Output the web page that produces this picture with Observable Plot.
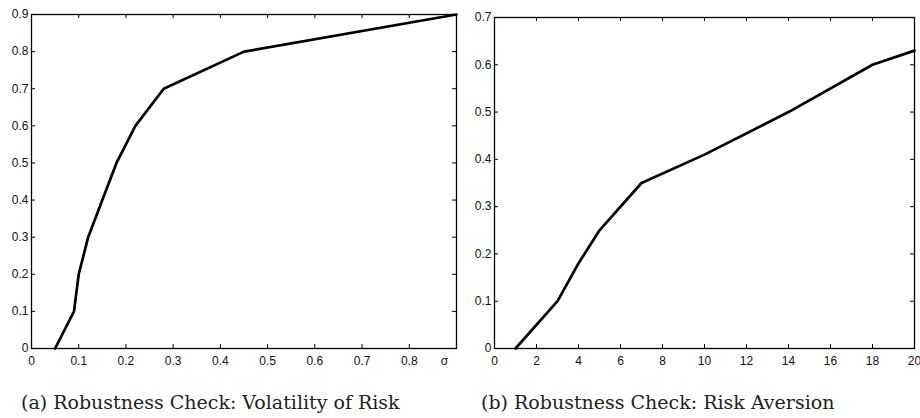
<!DOCTYPE html>
<html>
<head>
<meta charset="utf-8">
<script src="https://cdn.jsdelivr.net/npm/d3@7"></script>
<script src="https://cdn.jsdelivr.net/npm/@observablehq/plot@0.6"></script>
<style>
  html, body { margin: 0; padding: 0; background: #fff; width: 920px; height: 418px; overflow: hidden; }
  .panel { position: absolute; top: 0; }
  .panel svg { overflow: visible; }
  .cap { position: absolute; top: 391px; font-family: "DejaVu Serif", serif; font-size: 19px; color: #222; white-space: nowrap; }
</style>
</head>
<body>
<div id="a" class="panel" style="left:0px"></div>
<div id="b" class="panel" style="left:460px"></div>
<div class="cap" style="left:21px">(a) Robustness Check: Volatility of Risk</div>
<div class="cap" style="left:481px">(b) Robustness Check: Risk Aversion</div>
<script>
// Panel (a): volatility of risk
const sigmaX = [0.05, 0.09, 0.10, 0.12, 0.15, 0.18, 0.22, 0.28, 0.45, 0.90];
const sigmaY = [0.00, 0.10, 0.20, 0.30, 0.40, 0.50, 0.60, 0.70, 0.80, 0.90];
const aXTicks = [0, 0.1, 0.2, 0.3, 0.4, 0.5, 0.6, 0.7, 0.8, 0.9];
const aXLabels = ["0", "0.1", "0.2", "0.3", "0.4", "0.5", "0.6", "0.7", "0.8", "σ"];
const aYTicks = [0, 0.1, 0.2, 0.3, 0.4, 0.5, 0.6, 0.7, 0.8, 0.9];
const aYLabels = ["0", "0.1", "0.2", "0.3", "0.4", "0.5", "0.6", "0.7", "0.8", "0.9"];

// Panel (b): risk aversion
const gammaX = [1, 3, 4, 5, 7, 10, 14, 18, 20];
const gammaY = [0.00, 0.10, 0.18, 0.25, 0.35, 0.41, 0.50, 0.60, 0.63];
const bXTicks = [0, 2, 4, 6, 8, 10, 12, 14, 16, 18, 20];
const bXLabels = ["0", "2", "4", "6", "8", "10", "12", "14", "16", "18", "20"];
const bYTicks = [0, 0.1, 0.2, 0.3, 0.4, 0.5, 0.6, 0.7];
const bYLabels = ["0", "0.1", "0.2", "0.3", "0.4", "0.5", "0.6", "0.7"];

function panel({xs, ys, xDomain, yDomain, xTicks, xLabels, yTicks, yLabels, width, height, margins, sigmaShift}) {
  const data = xs.map((x, i) => ({x, y: ys[i]}));
  const innerW = width - margins.left - margins.right;
  const innerH = height - margins.top - margins.bottom;
  const T = 4;
  const xLab = new Map(xTicks.map((t, i) => [t, xLabels[i]]));
  const yLab = new Map(yTicks.map((t, i) => [t, yLabels[i]]));
  const fs = 12;
  const marks = [
    Plot.frame({stroke: "#000", strokeWidth: 1.3}),
    Plot.tickX(xTicks, {x: d => d, insetTop: innerH - T, stroke: "#000"}),
    Plot.tickX(xTicks, {x: d => d, insetBottom: innerH - T, stroke: "#000"}),
    Plot.tickY(yTicks, {y: d => d, insetRight: innerW - T, stroke: "#000"}),
    Plot.tickY(yTicks, {y: d => d, insetLeft: innerW - T, stroke: "#000"}),
    Plot.axisY({ticks: yTicks, tickSize: 0, tickPadding: 3, tickFormat: d => yLab.get(d), fontSize: fs, label: null}),
    Plot.line(data, {x: "x", y: "y", stroke: "#000", strokeWidth: 2.7, strokeLinejoin: "miter"})
  ];
  if (sigmaShift) {
    const main = xTicks.slice(0, -1);
    const last = xTicks.slice(-1);
    marks.push(Plot.axisX({ticks: main, tickSize: 0, tickPadding: 8, tickFormat: d => xLab.get(d), fontSize: fs, label: null}));
    marks.push(Plot.axisX({ticks: last, tickSize: 0, tickPadding: 8, tickFormat: d => xLab.get(d), fontSize: fs, label: null, dx: sigmaShift}));
  } else {
    marks.push(Plot.axisX({ticks: xTicks, tickSize: 0, tickPadding: 8, tickFormat: d => xLab.get(d), fontSize: fs, label: null}));
  }
  return Plot.plot({
    width, height,
    marginLeft: margins.left, marginRight: margins.right, marginTop: margins.top, marginBottom: margins.bottom,
    style: {fontFamily: "'Liberation Sans', Arial, sans-serif", fontSize: "12px", color: "#111", background: "transparent"},
    x: {domain: xDomain},
    y: {domain: yDomain},
    marks
  });
}

document.getElementById("a").append(panel({
  xs: sigmaX, ys: sigmaY, xDomain: [0, 0.9], yDomain: [0, 0.9],
  xTicks: aXTicks, xLabels: aXLabels, yTicks: aYTicks, yLabels: aYLabels,
  width: 460, height: 372, margins: {left: 31, right: 4, top: 14, bottom: 24}, sigmaShift: -12
}));
document.getElementById("b").append(panel({
  xs: gammaX, ys: gammaY, xDomain: [0, 20], yDomain: [0, 0.7],
  xTicks: bXTicks, xLabels: bXLabels, yTicks: bYTicks, yLabels: bYLabels,
  width: 460, height: 372, margins: {left: 34, right: 6, top: 17, bottom: 24}
}));
</script>
</body>
</html>
